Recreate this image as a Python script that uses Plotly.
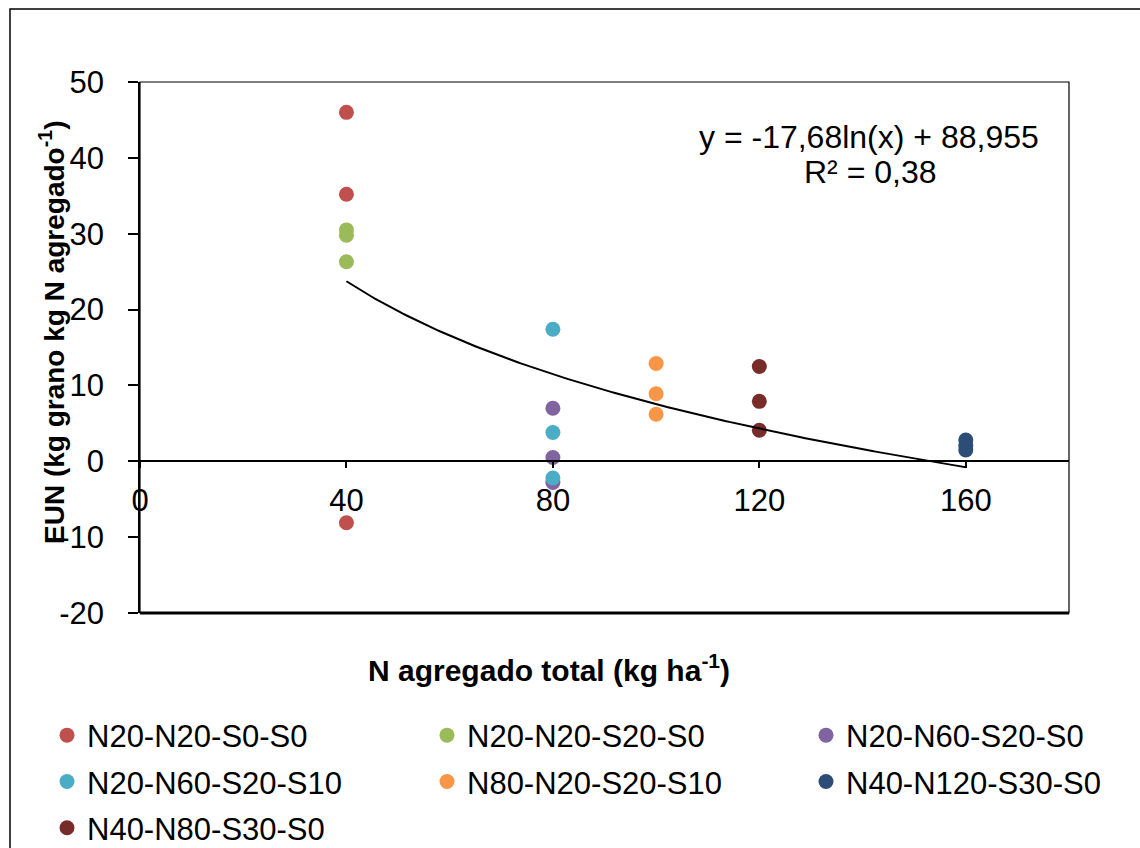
import numpy as np
import plotly.graph_objects as go

# ---------------- data ----------------
series_names = ["N20-N20-S0-S0", "N20-N20-S20-S0", "N20-N60-S20-S0",
                "N20-N60-S20-S10", "N80-N20-S20-S10", "N40-N120-S30-S0",
                "N40-N80-S30-S0"]
series_colors = ["#C0504D", "#9BBB59", "#8064A2", "#4BACC6", "#F79646",
                 "#2C4D75", "#772C2A"]
series_x = [40, 40, 80, 80, 100, 160, 120]
red_y = [46.0, 35.2, -8.1]
green_y = [30.5, 29.8, 26.3]
purple_y = [7.0, 0.5, -2.8]
cyan_y = [17.4, 3.8, -2.2]
orange_y = [12.9, 8.9, 6.2]
navy_y = [2.8, 2.1, 1.5]
darkred_y = [12.5, 7.9, 4.1]
series_y = [red_y, green_y, purple_y, cyan_y, orange_y, navy_y, darkred_y]
legend_ids = ["legend", "legend2", "legend3", "legend", "legend2", "legend3", "legend"]

# trendline (logarithmic, as printed on chart)
trend_a = -17.68
trend_b = 88.955
trend_xmin, trend_xmax = 40, 160
r2_text = "R² = 0,38"
eq_text = "y = -17,68ln(x) + 88,955"

x_ticks = [0, 40, 80, 120, 160]
x_ticklabels = ["0", "40", "80", "120", "160"]
y_ticks = [-20, -10, 0, 10, 20, 30, 40, 50]
y_ticklabels = ["-20", "-10", "0", "10", "20", "30", "40", "50"]

FONT = "Liberation Sans, Arial, sans-serif"

fig = go.Figure()
for name, col, xv, yv, lg in zip(series_names, series_colors, series_x, series_y, legend_ids):
    fig.add_trace(go.Scatter(
        x=[xv] * len(yv), y=yv, mode="markers", name=name,
        marker=dict(color=col, size=15, line=dict(width=0)),
        legend=lg, legendgroup=name,
    ))

tx = np.linspace(trend_xmin, trend_xmax, 200)
fig.add_trace(go.Scatter(
    x=tx, y=trend_a * np.log(tx) + trend_b, mode="lines",
    line=dict(color="black", width=2), showlegend=False, hoverinfo="skip",
))

# page body margin is removed by the post script, so figure = window
W, H = 1140, 848
PL, PR, PT, PB = 140, 1069, 82, 613          # plot area in window pixels
L, T = PL, PT
R, B = W - PR, H - PB
pw, ph = PR - PL, PB - PT

def px_x(px):
    return (px - PL) / pw

def px_y(py):
    return (PB - py) / ph

legend_common = dict(
    orientation="v", xref="paper", yref="paper", xanchor="left", yanchor="top",
    font=dict(family=FONT, size=31, color="black"), itemwidth=30,
    traceorder="grouped", tracegroupgap=3.0, bgcolor="rgba(0,0,0,0)",
)
leg_top = px_y(708.5)

fig.update_layout(
    width=W, height=H,
    margin=dict(l=L, r=R, t=T, b=B, autoexpand=False),
    paper_bgcolor="white", plot_bgcolor="white",
    font=dict(family=FONT, size=31, color="black"),
    legend=dict(x=px_x(47), y=leg_top, **legend_common),
    legend2=dict(x=px_x(427), y=leg_top, **legend_common),
    legend3=dict(x=px_x(806), y=leg_top, **legend_common),
    xaxis=dict(
        range=[0, 180], tickvals=x_ticks, ticktext=x_ticklabels,
        showgrid=False, zeroline=False,
        showline=True, linecolor="black", linewidth=1.5,
        ticks="outside", ticklen=6, tickwidth=1.5, tickcolor="black",
        anchor="free", position=20 / 70, ticklabelstandoff=6,
        tickfont=dict(family=FONT, size=31, color="black"),
    ),
    yaxis=dict(
        range=[-20, 50], tickvals=y_ticks, ticktext=y_ticklabels,
        showgrid=False, zeroline=False,
        showline=True, linecolor="black", linewidth=1.5,
        ticks="outside", ticklen=10, tickwidth=1.5, tickcolor="black",
        ticklabelstandoff=18,
        tickfont=dict(family=FONT, size=31, color="black"),
    ),
    showlegend=True,
)

# plot-area border and outer chart border
fig.add_shape(type="rect", xref="paper", yref="paper", x0=0, x1=1, y0=0, y1=1,
              line=dict(color="black", width=1.2), layer="above")
fig.add_shape(type="line", xref="paper", yref="paper", x0=0, x1=1, y0=0, y1=0,
              line=dict(color="black", width=3), layer="above")
fig.add_shape(type="rect", xref="paper", yref="paper",
              x0=px_x(10), x1=px_x(1160), y0=px_y(870), y1=px_y(9),
              line=dict(color="black", width=1.5), layer="above")

# axis titles
fig.add_annotation(text="<b>N agregado total (kg ha<sup>-1</sup>)</b>",
                   xref="paper", yref="paper", x=px_x(549), y=px_y(668),
                   xanchor="center", yanchor="middle", showarrow=False,
                   font=dict(family=FONT, size=30, color="black"))
fig.add_annotation(text="<b>EUN (kg grano kg N agregado<sup>-1</sup>)</b>",
                   xref="paper", yref="paper", x=px_x(52), y=px_y(333),
                   xanchor="center", yanchor="middle", showarrow=False,
                   textangle=-90,
                   font=dict(family=FONT, size=28, color="black"))

# trendline equation
fig.add_annotation(text=eq_text, xref="paper", yref="paper",
                   x=px_x(869), y=px_y(137), xanchor="center", yanchor="middle",
                   showarrow=False, font=dict(family=FONT, size=32, color="black"))
fig.add_annotation(text=r2_text, xref="paper", yref="paper",
                   x=px_x(870), y=px_y(172), xanchor="center", yanchor="middle",
                   showarrow=False, font=dict(family=FONT, size=32, color="black"))

fig.write_html(
    "out.html",
    config={"displayModeBar": False},
    post_script="document.body.style.margin='0';document.body.style.overflow='hidden';",
)
